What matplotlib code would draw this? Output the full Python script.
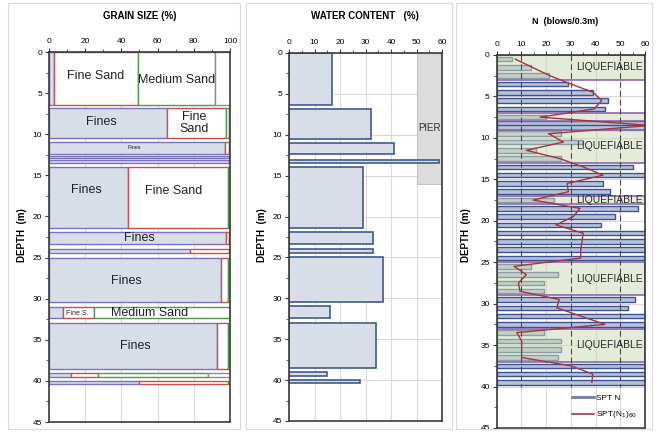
import matplotlib.pyplot as plt
import numpy as np
from matplotlib.lines import Line2D
from matplotlib.patches import Rectangle
from matplotlib.ticker import MultipleLocator

plt.rcParams['font.family'] = ['Liberation Sans', 'DejaVu Sans']

#### Soil layers (depth in m) ####

layer_top = [0.0, 6.8, 10.9, 12.6, 13.1, 14.0, 21.9, 24.0, 25.0, 31.0, 33.0, 39.0, 40.0]
layer_bot = [6.4, 10.4, 12.4, 12.9, 13.5, 21.4, 23.4, 24.4, 30.4, 32.4, 38.5, 39.5, 40.4]

# grain size fractions (%) for every layer
fines = [3, 65, 97.5, 99.5, 99.5, 43.5, 98, 78, 95, 8, 93, 12, 50]
fine_sand = [46, 33, 2, 0.3, 0.3, 55.5, 1.5, 21.5, 4, 17, 6, 15, 49]
medium_sand = [43, 1.5, 0.5, 0.2, 0.2, 1, 0.5, 0.5, 1, 75, 1, 61, 1]
coarse = [8, 0.5, 0, 0, 0, 0, 0, 0, 0, 0, 0, 12, 0]

#### Water content ####

wc_top = [0.0, 6.9, 11.0, 13.1, 14.0, 21.9, 24.0, 25.0, 31.0, 33.0, 39.0, 40.0]
wc_bot = [6.4, 10.5, 12.4, 13.5, 21.4, 23.4, 24.4, 30.4, 32.4, 38.5, 39.5, 40.4]
water = [17, 32, 41, 59, 29, 33, 33, 37, 16, 34, 15, 28]

pier_top, pier_bot = 0, 16
pier_from, pier_to = 50, 60

#### SPT ####

spt_depth = [0.5, 1.5, 2.5, 3.5, 4.5, 5.5, 6.5, 7.5, 8.25, 8.75, 9.5, 10.5, 11.5, 12.5,
             13.5, 14.5, 15.5, 16.5, 17.5, 18.5, 19.5, 20.5, 21.5, 22.5, 23.5, 24.5,
             25.5, 26.5, 27.5, 28.5, 29.5, 30.5, 31.5, 32.5, 33.5, 34.5, 35.5, 36.5,
             37.5, 38.5, 39.5]
spt_n = [6, 14, 21, 29, 39, 45, 44, 20, 60, 60, 26, 35, 16, 26,
         55, 60, 43, 46, 23, 57, 48, 42, 60, 60, 60, 60,
         14, 25, 19, 19, 56, 53, 60, 60, 19, 26, 26, 25,
         60, 60, 60]

n160_depth = [0.5, 1.5, 2.5, 3.5, 4.5, 5.5, 6.5, 7.5, 8.5, 9.5, 10.5, 11.5, 12.5, 13.5,
              14.5, 15.5, 16.5, 17.5, 18.5, 19.5, 20.5, 21.5, 22.5, 23.5, 24.5, 25.5,
              26.5, 27.5, 28.5, 29.5, 30.5, 31.5, 32.5, 33.5, 34.5, 35.5, 36.5, 37.5,
              38.5, 39.5]
n160 = [7.5, 14.5, 21.5, 30, 39, 42.5, 39.5, 17.5, 62, 21, 27, 12, 25.5, 35,
        43, 28.5, 29, 14.7, 33.7, 31, 24, 35, 34.5, 34, 34, 7,
        12, 8.8, 9.4, 25.3, 24.3, 34, 43.8, 8.1, 10.1, 10.1, 10.1, 30,
        38.9, 38.5]

liq_top = [0, 7, 9, 17, 25, 33]
liq_bot = [3, 8, 13, 18, 29, 37]
liq_label = [True, False, True, True, True, True]

#######################################

FILL = '#d8dee8'
SPINE = '#3a3a3a'
GRID = '#d9d9d9'


def setup_axis(ax, xmax, xmajor, xminor):
    ''' depth axis pointing down, percent / count axis on top '''
    ax.set_xlim(0, xmax)
    ax.set_ylim(45, 0)
    ax.xaxis.tick_top()
    ax.xaxis.set_major_locator(MultipleLocator(xmajor))
    ax.xaxis.set_minor_locator(MultipleLocator(xminor))
    ax.yaxis.set_major_locator(MultipleLocator(5))
    ax.yaxis.set_minor_locator(MultipleLocator(2.5))
    ax.tick_params(which='both', labelsize=6, color=SPINE, pad=2)
    ax.tick_params(which='major', length=3)
    ax.tick_params(which='minor', length=2)
    ax.grid(True, color=GRID, lw=0.8, zorder=0)
    ax.set_axisbelow(True)
    for s in ax.spines.values():
        s.set_color(SPINE)
        s.set_linewidth(1.2)
        s.set_zorder(6)


fig = plt.figure(figsize=(6.62, 4.32), dpi=100)

# light frame round each chart
for x0, x1 in [(8, 240), (246, 452), (456, 652)]:
    fig.patches.append(Rectangle((x0 / 662, 3 / 432), (x1 - x0) / 662, 426 / 432,
                                 transform=fig.transFigure, fill=False,
                                 ec='#d9d9d9', lw=0.8))

ax1 = fig.add_axes([0.0740, 0.0231, 0.2734, 0.8565])
ax2 = fig.add_axes([0.4366, 0.0255, 0.2311, 0.8519])
ax3 = fig.add_axes([0.7503, 0.0093, 0.2240, 0.8634])

#### Grain size ####
setup_axis(ax1, 100, 20, 10)
top = np.array(layer_top)
bot = np.array(layer_bot)
mid = (top + bot) / 2
hgt = bot - top
left = np.zeros(len(top))
for frac, fc, ec in [(fines, FILL, '#7a70c4'),
                     (fine_sand, 'white', '#c8504a'),
                     (medium_sand, 'white', '#4c9a4c'),
                     (coarse, 'white', '#8c8c8c')]:
    frac = np.array(frac, dtype=float)
    ax1.barh(mid, frac, left=left, height=hgt, color=fc, edgecolor=ec, lw=1.0, zorder=2)
    left += frac

labels = [(26, 2.9, 'Fine Sand', 9), (70.5, 3.4, 'Medium Sand', 9),
          (29, 8.5, 'Fines', 9), (80, 8.6, 'Fine\nSand', 9),
          (47, 11.6, 'Fines', 4), (20.5, 16.8, 'Fines', 9), (69, 16.9, 'Fine Sand', 9),
          (50, 22.6, 'Fines', 9), (42.5, 27.9, 'Fines', 9),
          (15.7, 31.8, 'Fine S.', 5), (55.5, 31.7, 'Medium Sand', 9),
          (48, 35.8, 'Fines', 9)]
for x, y, t, fs in labels:
    ax1.text(x, y, t, ha='center', va='center', fontsize=fs, color='#222222',
             linespacing=0.95, zorder=5)

#### Water content ####
setup_axis(ax2, 60, 10, 5)
ax2.add_patch(Rectangle((pier_from, pier_top), pier_to - pier_from, pier_bot - pier_top,
                        fc='#dcdcdc', ec='#c4c4c4', lw=0.8, zorder=1))
ax2.text((pier_from + pier_to) / 2, 9.2, 'PIER', ha='center', va='center',
         fontsize=7, color='#333333', zorder=3)
wt = np.array(wc_top)
wb = np.array(wc_bot)
ax2.barh((wt + wb) / 2, water, height=wb - wt, color=FILL, edgecolor='#3f5a8c',
         lw=1.2, zorder=2)

#### SPT N ####
setup_axis(ax3, 60, 10, 5)
ax3.barh(spt_depth, spt_n, height=0.55, color='#b6c2d9', edgecolor='#3d5290',
         lw=1.0, zorder=2)
for t, b, lab in zip(liq_top, liq_bot, liq_label):
    ax3.add_patch(Rectangle((0, t), 60, b - t, fc='#cedcb8', alpha=0.55, ec='none', zorder=3))
    ax3.add_patch(Rectangle((0, t), 60, b - t, fill=False, ec='#8a68b0', lw=1.2, zorder=3))
    if lab:
        ax3.text(45.5, (t + b) / 2, 'LIQUEFIABLE', ha='center', va='center',
                 fontsize=7.5, color='#2a2a2a', zorder=5)
ax3.vlines([10, 30, 50], 0, 40, colors='#4a4a4a', linestyles=(0, (5, 3)), lw=0.8, zorder=4)
ax3.plot(n160, n160_depth, color='#a5353a', lw=1.0, zorder=5, clip_on=True)

handles = [Line2D([], [], color='#6b7fb0', lw=2),
           Line2D([], [], color='#a5353a', lw=1.2)]
ax3.legend(handles, ['SPT N', 'SPT(N$_1$)$_{60}$'], loc='lower right', frameon=False,
           fontsize=6, handlelength=2.6, handletextpad=0.3, labelspacing=0.9,
           bbox_to_anchor=(1.0, 0.0))

#### titles and depth labels ####
fig.text(140 / 662, 1 - 16 / 432, 'GRAIN SIZE (%)', ha='center', va='center',
         fontsize=7, fontweight='bold')
fig.text(365 / 662, 1 - 16 / 432, 'WATER CONTENT   (%)', ha='center', va='center',
         fontsize=7, fontweight='bold')
fig.text(565 / 662, 1 - 22 / 432, 'N  (blows/0.3m)', ha='center', va='center',
         fontsize=6.5, fontweight='bold')
for x in [22, 262, 466]:
    fig.text(x / 662, 1 - 235 / 432, 'DEPTH  (m)', rotation=90, ha='center',
             va='center', fontsize=7, fontweight='bold')

fig.savefig('out.png', dpi=100)
